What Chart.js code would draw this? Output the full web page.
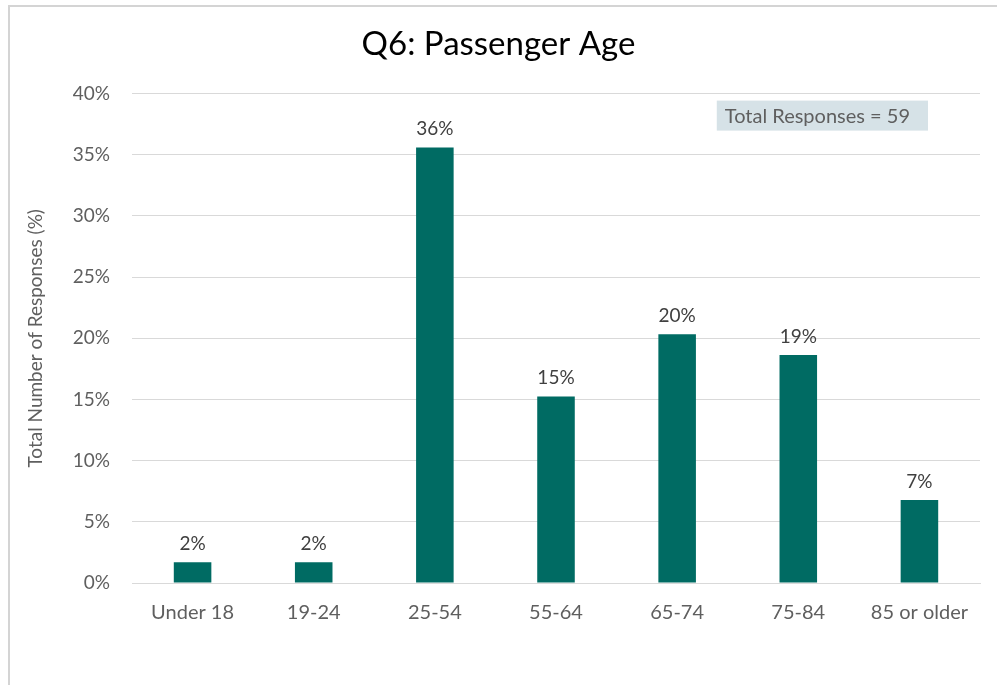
<!DOCTYPE html>
<html>
<head>
<meta charset="utf-8">
<title>Q6: Passenger Age</title>
<script src="https://cdn.jsdelivr.net/npm/chart.js@4"></script>
<style>
  html, body { margin: 0; padding: 0; background: #fff; }
  #frame {
    position: absolute; left: 8px; top: 5px; width: 989px; height: 680px;
    border-left: 2px solid #d4d4d4; border-top: 2px solid #d4d4d4;
    box-sizing: border-box;
  }
  #wrap { position: absolute; left: 0; top: 0; width: 997px; height: 685px; }
</style>
</head>
<body>
<div id="frame"></div>
<div id="wrap"><canvas id="ageChart"></canvas></div>
<script>
const ageGroups = ['Under 18', '19-24', '25-54', '55-64', '65-74', '75-84', '85 or older'];
// share of the 59 responses, in percent
const responseShare = [1.69, 1.69, 35.59, 15.25, 20.34, 18.64, 6.78];
const totalResponses = 59;

const FONT = 'Lato, Carlito, Calibri, sans-serif';
const GREY = '#5f5f5f';

// value labels on top of each bar
const barLabels = {
  id: 'barLabels',
  afterDatasetsDraw(chart) {
    const ctx = chart.ctx;
    const meta = chart.getDatasetMeta(0);
    ctx.save();
    ctx.font = '19px ' + FONT;
    ctx.fillStyle = '#404040';
    ctx.textAlign = 'center';
    ctx.textBaseline = 'bottom';
    meta.data.forEach((bar, i) => {
      ctx.fillText(Math.round(responseShare[i]) + '%', bar.x, bar.y - 9);
    });
    ctx.restore();
  }
};

// "Total Responses" note in the upper right corner
const totalNote = {
  id: 'totalNote',
  afterDraw(chart) {
    const ctx = chart.ctx;
    const area = chart.chartArea;
    const text = 'Total Responses = ' + totalResponses;
    ctx.save();
    ctx.font = '20px ' + FONT;
    const w = ctx.measureText(text).width + 26;
    const x = area.right - 52 - w;
    const y = area.top + 7;
    ctx.fillStyle = '#d6e2e7';
    ctx.fillRect(x, y, w, 30);
    ctx.fillStyle = GREY;
    ctx.textBaseline = 'middle';
    ctx.fillText(text, x + 8, y + 16);
    ctx.restore();
  }
};

new Chart(document.getElementById('ageChart'), {
  type: 'bar',
  data: {
    labels: ageGroups,
    datasets: [{
      label: 'Total Number of Responses (%)',
      data: responseShare,
      backgroundColor: '#006b63',
      barPercentage: 0.31,
      categoryPercentage: 1
    }]
  },
  options: {
    responsive: true,
    maintainAspectRatio: false,
    animation: false,
    layout: { padding: 0 },
    plugins: {
      legend: { display: false },
      tooltip: { enabled: false },
      title: {
        display: true,
        text: 'Q6: Passenger Age',
        color: '#000',
        font: { family: FONT, size: 33, weight: 'normal' },
        padding: { top: 25, bottom: 29 }
      }
    },
    scales: {
      x: {
        grid: { display: false, drawTicks: false },
        border: { display: true, color: '#d9d9d9' },
        ticks: { color: GREY, font: { family: FONT, size: 20 }, padding: 18 },
        afterFit(scale) { scale.height = 102; }
      },
      y: {
        min: 0,
        max: 40,
        ticks: {
          stepSize: 5,
          color: GREY,
          font: { family: FONT, size: 19 },
          padding: 22,
          callback: v => v + '%'
        },
        grid: { color: '#d9d9d9', drawTicks: false },
        border: { display: false },
        title: {
          display: true,
          text: 'Total Number of Responses (%)',
          color: GREY,
          font: { family: FONT, size: 19 },
          padding: { top: 24, bottom: 0 }
        },
        afterFit(scale) { scale.width = 132; }
      },
      // empty right-hand strip so the plot ends short of the edge
      yRight: {
        position: 'right',
        min: 0,
        max: 40,
        grid: { display: false, drawTicks: false },
        border: { display: false },
        ticks: { display: false },
        afterFit(scale) { scale.width = 17; }
      }
    }
  },
  plugins: [barLabels, totalNote]
});
</script>
</body>
</html>
